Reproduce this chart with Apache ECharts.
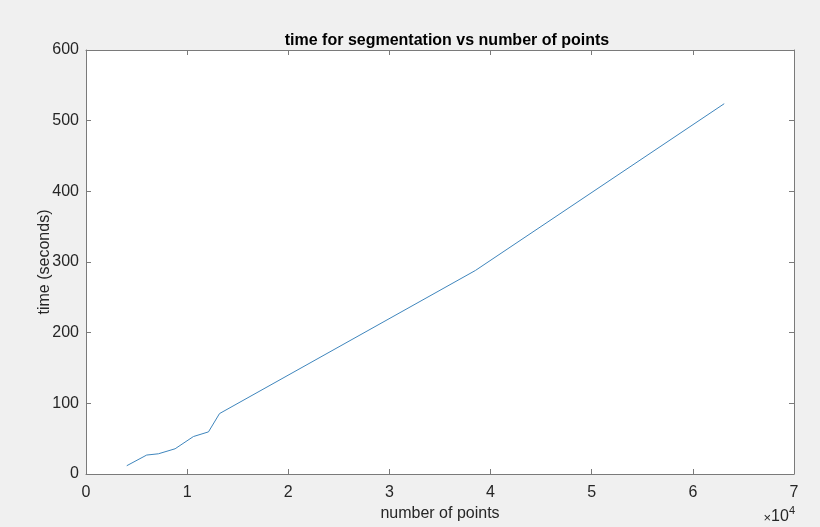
<!DOCTYPE html>
<html>
<head>
<meta charset="utf-8">
<script src="https://cdn.jsdelivr.net/npm/echarts@6/dist/echarts.min.js"></script>
<style>
  html, body { margin: 0; padding: 0; background: #f0f0f0; }
  #chart { width: 820px; height: 527px; }
</style>
</head>
<body>
<div id="chart"></div>
<script>
// number of points vs segmentation time
const numPoints = [4030, 6000, 7160, 8810, 10620, 12110, 13200, 38500, 63100];
const timeSec = [11.7, 26.8, 28.6, 35.7, 53, 59.6, 85.5, 288, 524];
const xTicks = ["0", "1", "2", "3", "4", "5", "6", "7"];

const font = "'Liberation Sans', Arial, sans-serif";
const frame = "#7a7a7a";
const txt = "#262626";

const chart = echarts.init(document.getElementById("chart"));

const frameAxis = {
  axisLine: { show: true, onZero: false, lineStyle: { color: frame, width: 1 } },
  axisTick: { show: true, inside: true, length: 5, lineStyle: { color: frame } },
  splitLine: { show: false },
};

chart.setOption({
  backgroundColor: "#f0f0f0",
  animation: false,
  title: {
    text: "time for segmentation vs number of points",
    left: 442,
    top: 28,
    textAlign: "center",
    textStyle: { fontFamily: font, fontSize: 16, fontWeight: "bold", color: "#000" },
  },
  grid: {
    left: 86,
    right: 26,
    top: 50,
    bottom: 53,
    show: true,
    backgroundColor: "#ffffff",
    borderWidth: 0,
  },
  xAxis: [
    Object.assign({}, frameAxis, {
      type: "value",
      min: 0,
      max: 70000,
      interval: 10000,
      name: "number of points",
      nameLocation: "middle",
      nameGap: 32,
      nameTextStyle: { fontFamily: font, fontSize: 16, color: txt },
      axisLabel: {
        fontFamily: font,
        fontSize: 16,
        color: txt,
        margin: 11,
        formatter: (v) => xTicks[Math.round(v / 10000)],
      },
    }),
    Object.assign({}, frameAxis, {
      type: "value",
      position: "top",
      min: 0,
      max: 70000,
      interval: 10000,
      axisLabel: { show: false },
    }),
  ],
  yAxis: [
    Object.assign({}, frameAxis, {
      type: "value",
      min: 0,
      max: 600,
      interval: 100,
      name: "time (seconds)",
      nameLocation: "middle",
      nameGap: 33,
      nameMoveOverlap: false,
      nameTextStyle: { fontFamily: font, fontSize: 16, color: txt },
      axisLabel: { fontFamily: font, fontSize: 16, color: txt, margin: 7 },
    }),
    Object.assign({}, frameAxis, {
      type: "value",
      position: "right",
      min: 0,
      max: 600,
      interval: 100,
      axisLabel: { show: false },
    }),
  ],
  graphic: [
    {
      type: "text",
      right: 25,
      top: 505,
      style: {
        text: "{m|×}{b|10}{s|4}",
        rich: {
          m: { fontFamily: font, fontSize: 13, fill: txt, verticalAlign: "bottom" },
          b: { fontFamily: font, fontSize: 16, fill: txt, verticalAlign: "bottom" },
          s: { fontFamily: font, fontSize: 11, fill: txt, verticalAlign: "top", padding: [0, 0, 9, 0] },
        },
      },
    },
  ],
  series: [
    {
      type: "line",
      data: numPoints.map((x, i) => [x, timeSec[i]]),
      showSymbol: false,
      lineStyle: { color: "#3f86bd", width: 1 },
    },
  ],
});
</script>
</body>
</html>
